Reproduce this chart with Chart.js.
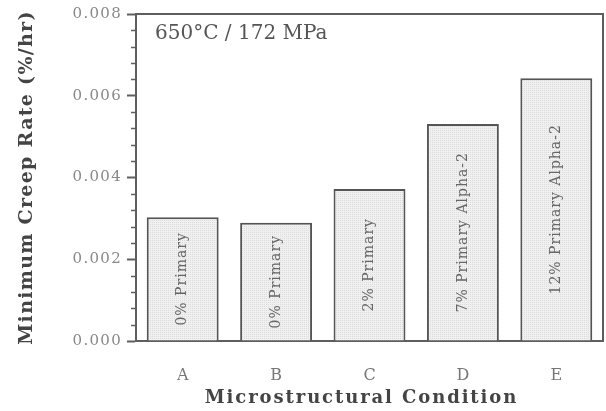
<!DOCTYPE html>
<html><head><meta charset="utf-8">
<script src="https://cdn.jsdelivr.net/npm/chart.js@4.4.1/dist/chart.umd.min.js"></script>
<style>html,body{margin:0;padding:0;background:#fff}canvas{display:block}</style>
</head><body>
<canvas id="c" width="606" height="411"></canvas>
<script>
const categories = ['A', 'B', 'C', 'D', 'E'];
const creepRates = [0.00303, 0.00289, 0.00372, 0.00531, 0.00643];
const barLabels = ['0% Primary', '0% Primary', '2% Primary', '7% Primary Alpha-2', '12% Primary Alpha-2'];
const yTicks = [0, 0.002, 0.004, 0.006, 0.008];
const yMinorStep = 0.0004;
const conditionText = '650°C / 172 MPa';
const yTitle = 'Minimum Creep Rate (%/hr)';
const xTitle = 'Microstructural Condition';

const canvas = document.getElementById('c');
const ctx0 = canvas.getContext('2d');
function makePattern() {
  const p = document.createElement('canvas');
  p.width = 2; p.height = 2;
  const g = p.getContext('2d');
  g.fillStyle = '#f0f0f0'; g.fillRect(0, 0, 2, 2);
  g.fillStyle = '#dcdcdc'; g.fillRect(0, 0, 1, 1);
  return ctx0.createPattern(p, 'repeat');
}

function patch(scale, fn, sp, dx) {
  if (!scale || scale['_p_' + fn]) return;
  const orig = scale[fn];
  scale[fn] = function (...a) {
    const c = this.ctx; const prev = c.letterSpacing;
    c.save();
    c.translate(dx || 0, 0);
    c.letterSpacing = sp; orig.apply(this, a); c.letterSpacing = prev;
    c.restore();
  };
  scale['_p_' + fn] = true;
}

const decorPlugin = {
  id: 'decor',
  beforeDraw(chart) {
    patch(chart.scales.y, 'drawTitle', '1.3px', 0);
    patch(chart.scales.x, 'drawTitle', '1.9px', -8);
    patch(chart.scales.y, 'drawLabels', '1.3px', 0);
  },
  afterDatasetsDraw(chart) {
    const ctx = chart.ctx;
    const meta = chart.getDatasetMeta(0);
    meta.data.forEach((bar, i) => {
      const cy = (bar.y + bar.base) / 2;
      ctx.save();
      ctx.translate(bar.x, cy);
      ctx.rotate(-Math.PI / 2);
      ctx.font = '14px "DejaVu Serif"';
      ctx.fillStyle = '#666';
      ctx.textAlign = 'center';
      ctx.textBaseline = 'middle';
      ctx.letterSpacing = '1px';
      ctx.fillText(barLabels[i], 0, 0);
      ctx.restore();
    });
  },
  afterDraw(chart) {
    const ctx = chart.ctx;
    const a = chart.chartArea;
    const y = chart.scales.y;
    ctx.save();
    ctx.strokeStyle = '#5e5e5e';
    ctx.lineWidth = 2;
    ctx.beginPath();
    ctx.moveTo(a.left, a.top); ctx.lineTo(a.right, a.top); ctx.lineTo(a.right, a.bottom);
    ctx.stroke();
    // minor ticks
    ctx.lineWidth = 1.5;
    const n = Math.round((y.max - y.min) / yMinorStep);
    for (let i = 0; i <= n; i++) {
      if (i % 5 === 0) continue;
      const py = Math.round(y.getPixelForValue(y.min + i * yMinorStep)) + 0.5;
      ctx.beginPath(); ctx.moveTo(a.left - 5, py); ctx.lineTo(a.left, py); ctx.stroke();
    }
    // condition text
    ctx.font = '20px "DejaVu Serif"';
    ctx.fillStyle = '#555';
    ctx.textAlign = 'left';
    ctx.textBaseline = 'middle';
    ctx.fillText(conditionText, a.left + 19, a.top + 20);
    ctx.restore();
  }
};

new Chart(canvas, {
  type: 'bar',
  data: {
    labels: categories,
    datasets: [{
      data: creepRates,
      backgroundColor: makePattern(),
      borderColor: '#555',
      borderWidth: 2,
      categoryPercentage: 1,
      barPercentage: 0.77
    }]
  },
  options: {
    responsive: false,
    animation: false,
    devicePixelRatio: 1,
    layout: { padding: { top: 14, right: 3, left: 0, bottom: 0 } },
    plugins: { legend: { display: false }, tooltip: { enabled: false } },
    scales: {
      x: {
        grid: { display: false },
        border: { display: true, color: '#5e5e5e', width: 2 },
        ticks: { color: '#777', font: { family: 'DejaVu Serif', size: 16 }, padding: 17 },
        title: { display: true, text: xTitle, color: '#444',
          font: { family: 'DejaVu Serif', size: 18, weight: 'bold' }, padding: { top: 0, bottom: 2 } },
        afterFit(s) { s.height = 70; }
      },
      y: {
        min: 0, max: 0.008,
        afterBuildTicks(s) { s.ticks = yTicks.map(v => ({ value: v })); },
        grid: { display: true, drawOnChartArea: false, drawTicks: true, tickLength: 9, tickColor: '#5e5e5e', tickWidth: 2 },
        border: { display: true, color: '#5e5e5e', width: 2 },
        ticks: { color: '#888', font: { family: 'DejaVu Serif', size: 15 }, padding: 5,
          callback: v => Number(v).toFixed(3) },
        title: { display: true, text: yTitle, color: '#444',
          font: { family: 'DejaVu Serif', size: 19, weight: 'bold' }, padding: { top: 16, bottom: 0 } },
        afterFit(s) { s.width = 136; }
      }
    }
  },
  plugins: [decorPlugin]
});
</script>
</body></html>
